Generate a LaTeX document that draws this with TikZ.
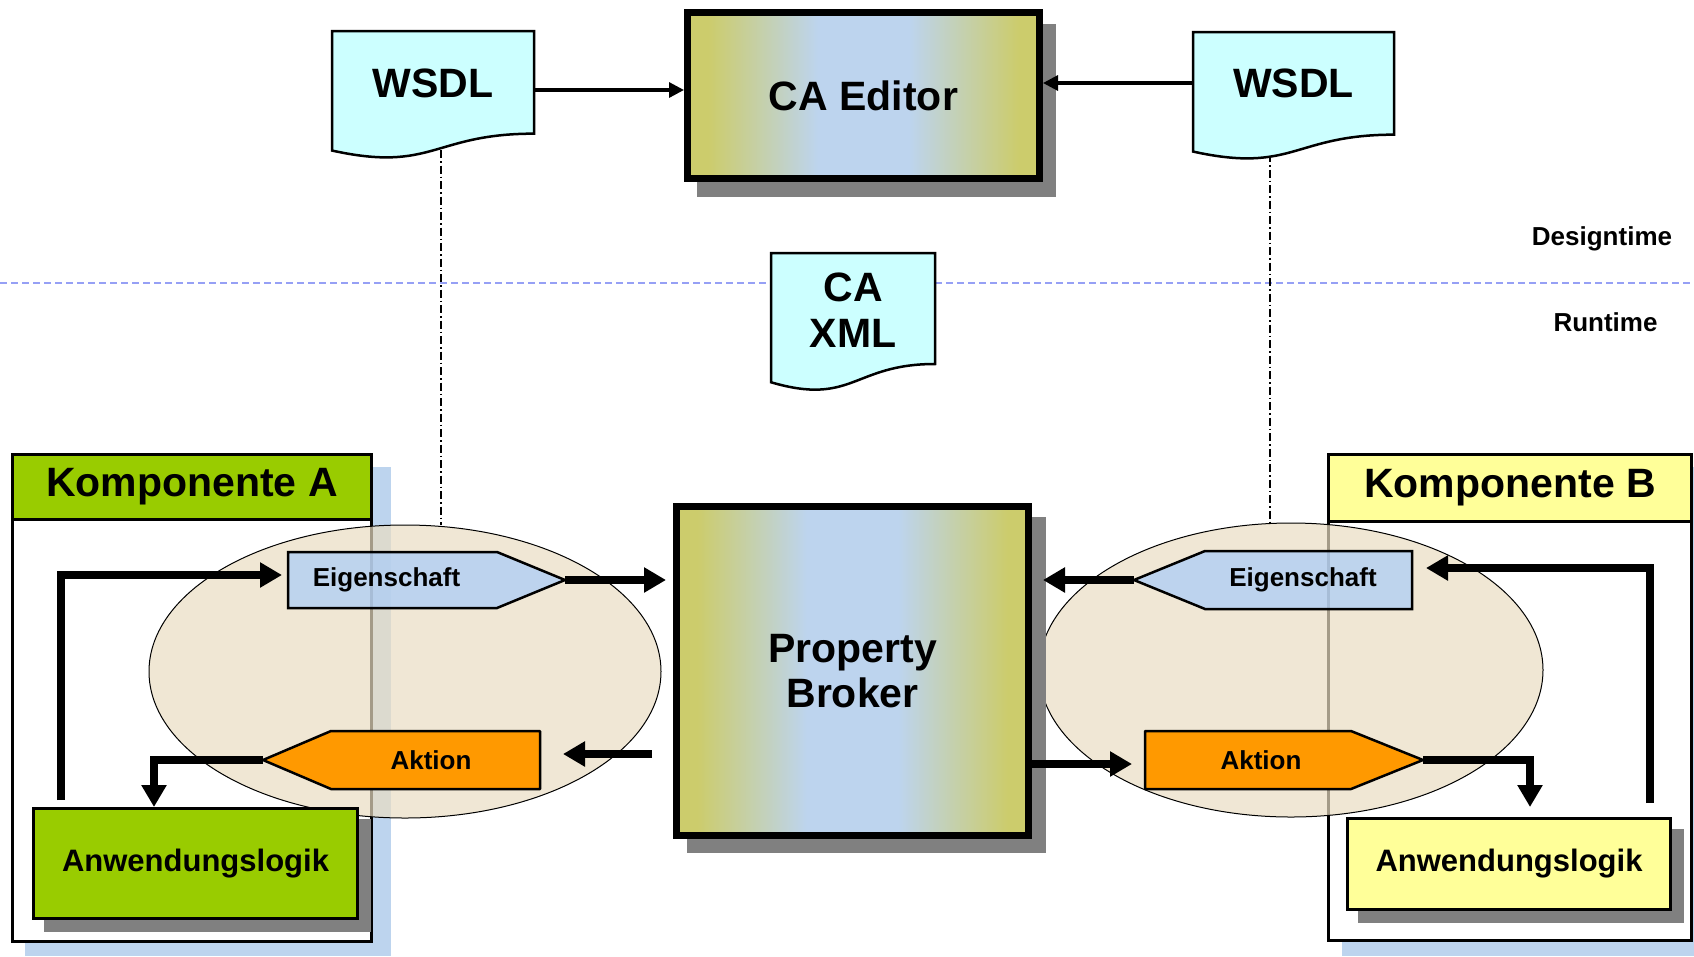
\documentclass[tikz,border=0pt]{standalone}
\usepackage{fontspec}
\setmainfont{Liberation Sans}
\usetikzlibrary{arrows.meta,shapes.geometric,calc}

\definecolor{olivegrad}{RGB}{204,204,108}
\definecolor{bluegrad}{RGB}{189,212,238}
\definecolor{docfill}{RGB}{204,255,255}
\definecolor{shgray}{RGB}{128,128,128}
\definecolor{kgreen}{RGB}{153,204,0}
\definecolor{kyellow}{RGB}{255,255,153}
\definecolor{kshadow}{RGB}{189,212,238}
\definecolor{ellfill}{RGB}{234,221,195}
\definecolor{eigfill}{RGB}{169,204,249}
\definecolor{aktfill}{RGB}{255,153,0}
\definecolor{sepblue}{RGB}{150,160,245}

\pgfdeclarehorizontalshading{pbgrad}{100bp}{color(0bp)=(olivegrad); color(28bp)=(olivegrad); color(43.5bp)=(bluegrad); color(56.5bp)=(bluegrad); color(72bp)=(olivegrad); color(100bp)=(olivegrad)}

\newcommand\mydocpath[4]{%
  \draw[docshape] (#1,#3) -- (#2,#3) -- (#2,{#3+0.802*#4})
    .. controls ({(#1+#2)/2},{#3+0.802*#4}) and ({(#1+#2)/2},{#3+1.1075*#4}) ..
    (#1,{#3+0.934*#4}) -- cycle;}

\tikzset{
  lbl/.style={font=\bfseries\fontsize{41}{45}\selectfont, align=center, inner sep=0pt},
  smalllbl/.style={font=\bfseries\fontsize{26}{30}\selectfont, inner sep=0pt},
  sidelbl/.style={font=\bfseries\fontsize{26}{30}\selectfont, inner sep=0pt},
  bigbox/.style={draw=black, line width=7pt, shade, shading=pbgrad, inner sep=0pt,
                 font=\bfseries\fontsize{41}{45}\selectfont, align=center},
  docshape/.style={draw=black, line width=2.5pt, fill=docfill, line join=miter},
  thickarrow/.style={line width=7.5pt, line join=miter, -{Triangle[length=22pt,width=24pt]}},
  thinarrow/.style={line width=3.2pt, -{Triangle[length=15pt,width=15pt]}},
  dashdot/.style={line width=1.2pt, dash pattern=on 8pt off 3pt on 1.5pt off 3pt},
  sepline/.style={draw=sepblue, line width=2pt, dash pattern=on 7pt off 4pt},
  kbox/.style={draw=black, line width=3pt, fill=white, inner sep=0pt},
  khead/.style={draw=black, line width=3pt, inner sep=0pt, font=\bfseries\fontsize{41}{45}\selectfont},
  anwbox/.style={draw=black, line width=3pt, inner sep=0pt, font=\bfseries\fontsize{31}{35}\selectfont},
  ellbox/.style={ellipse, draw=black, line width=1pt, fill=ellfill, fill opacity=0.7, inner sep=0pt},
  eigshape/.style={draw=black, line width=2.5pt, fill=eigfill, fill opacity=0.7, line join=miter},
  aktshape/.style={draw=black, line width=2.5pt, fill=aktfill, line join=round},
}

\begin{document}
\begin{tikzpicture}[x=1pt,y=-1pt]
\useasboundingbox (0,0) rectangle (1694,956);

% Designtime / Runtime separator
\draw[sepline] (0,283) -- (1694,283);
\node[sidelbl] (design) at (1602,239) {Designtime};
\node[sidelbl] (run) at (1605.5,322) {Runtime};

% dash-dot guides
\coordinate (ddA) at (441,150);
\coordinate (ddB) at (1270,154);

% Komponente A
\fill[kshadow] (25,467) rectangle (391,956);
\node[kbox, minimum width=359pt, minimum height=487pt] (kompA) at (192,698) {};
\node[khead, fill=kgreen, minimum width=359pt, minimum height=65pt] (headA) at (192,487) {Komponente A};

% Komponente B
\fill[kshadow] (1342,467) rectangle (1694,956);
\node[kbox, minimum width=363pt, minimum height=486pt] (kompB) at (1510,697.5) {};
\node[khead, fill=kyellow, minimum width=363pt, minimum height=67pt] (headB) at (1510,488) {Komponente B};

% ellipses
\node[ellbox, minimum width=512pt, minimum height=293pt] (ellA) at (405,671.5) {};
\node[ellbox, minimum width=504pt, minimum height=294pt] (ellB) at (1291,670) {};

\draw[dashdot] (ddA) -- (ddA |- ellA.north);
\draw[dashdot] (ddB) -- (ddB |- ellB.north);

% Anwendungslogik
\fill[shgray] (44,819) rectangle (371,932);
\node[anwbox, fill=kgreen, minimum width=324pt, minimum height=110pt] (anwA) at (195.5,863.5) {Anwendungslogik};
\fill[shgray] (1358,829) rectangle (1684,923);
\node[anwbox, fill=kyellow, minimum width=323pt, minimum height=91pt] (anwB) at (1509,864) {Anwendungslogik};

% Eigenschaft / Aktion shapes
\draw[eigshape] (288,552) -- (497,552) -- (565,580) -- (497,608) -- (288,608) -- cycle;
\draw[aktshape] (263,760) -- (331,731) -- (540,731) -- (540,789) -- (331,789) -- cycle;
\draw[eigshape] (1134,580) -- (1205,551) -- (1412,551) -- (1412,609) -- (1205,609) -- cycle;
\draw[aktshape] (1145,731) -- (1351,731) -- (1423,760) -- (1351,789) -- (1145,789) -- cycle;
\node[smalllbl] (eigA) at (386.5,580) {Eigenschaft};
\node[smalllbl] (aktA) at (431,760) {Aktion};
\node[smalllbl] (eigB) at (1303,580) {Eigenschaft};
\node[smalllbl] (aktB) at (1261,760) {Aktion};
\coordinate (eigAtip) at (565,580);
\coordinate (eigAback) at (288,580);
\coordinate (aktAtip) at (263,760);
\coordinate (aktAback) at (540,760);
\coordinate (eigBtip) at (1134,580);
\coordinate (eigBback) at (1412,580);
\coordinate (aktBtip) at (1423,760);
\coordinate (aktBback) at (1145,760);

% Property Broker
\fill[shgray] (687,517) rectangle (1046,853);
\node[bigbox, minimum width=352pt, minimum height=329pt] (pb) at (852.5,671) {Property\\Broker};

% CA Editor
\fill[shgray] (697,24) rectangle (1056,197);
\node[bigbox, minimum width=352pt, minimum height=166pt] (ed) at (863.5,95.5) {CA Editor};

% documents
\mydocpath{332}{534}{31}{128}
\node[lbl, minimum width=202pt, minimum height=104pt] (wsdlA) at (433,83) {WSDL};
\mydocpath{1193}{1394}{32}{128}
\node[lbl, minimum width=201pt, minimum height=104pt] (wsdlB) at (1293.5,83) {WSDL};
\mydocpath{771}{935}{253}{138.4}
\node[lbl, minimum width=164pt, minimum height=111pt, font=\bfseries\fontsize{41}{46}\selectfont] (caxml) at (853,310) {CA\\XML};

% design-time connectors
\coordinate (wA) at ([yshift=-7pt]wsdlA.east);
\draw[thinarrow] (wA) -- (wA -| ed.west);
\draw[thinarrow] (wsdlB.west) -- (wsdlB.west -| ed.east);

% run-time connectors
\draw[thickarrow, shorten >=7pt] (eigAtip) -- (eigAtip -| pb.west);
\coordinate (c4) at ([yshift=6pt]aktAback);
\draw[thickarrow, shorten <=21pt, shorten >=23pt] (c4 -| pb.west) -- (c4);
\draw[thickarrow, shorten >=11pt] (eigBtip) -- (eigBtip -| pb.east);
\coordinate (c6) at ([yshift=-4pt]aktBback);
\draw[thickarrow, shorten >=13pt] (c6 -| pb.east) -- (c6);

\draw[thickarrow] (aktAtip) -| ([xshift=122pt]anwA.north west);
\draw[thickarrow] ([xshift=29pt,yshift=7pt]anwA.north west) |- ([xshift=-6pt,yshift=5pt]eigAback);
\draw[thickarrow, shorten >=10pt] (aktBtip) -| ([xshift=184pt]anwB.north west);
\draw[thickarrow, shorten >=14pt] ([xshift=-22pt,yshift=14pt]anwB.north east) |- ([yshift=12pt]eigBback);
\end{tikzpicture}
\end{document}
